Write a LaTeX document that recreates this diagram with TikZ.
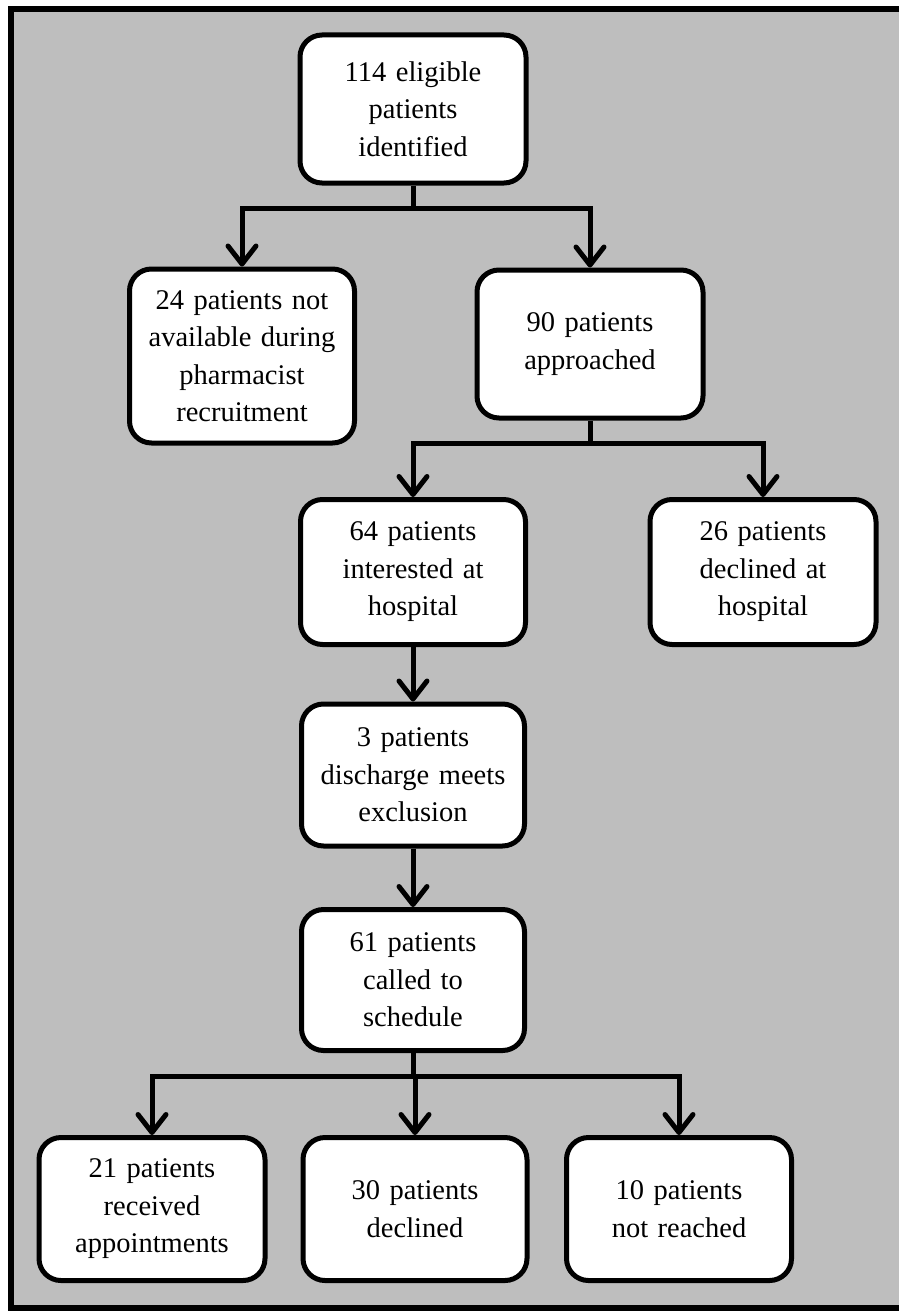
\documentclass[tikz,border=0pt]{standalone}
\usepackage{fontspec}
\setmainfont{Liberation Serif}
\usetikzlibrary{arrows.meta}
\definecolor{panelgray}{RGB}{190,190,190}
\tikzset{
  box/.style={draw=black, fill=white, line width=5pt, rounded corners=22pt,
    align=center, inner sep=0pt, text width=214pt,
    font=\fontsize{28.5}{37.5}\selectfont},
  link/.style={draw=black, line width=5pt},
  arr/.style={link, -{Straight Barb[length=18pt,width=28pt,round]}}
}
\begin{document}
\begin{tikzpicture}[x=1pt,y=-1pt]
\useasboundingbox (0,0) rectangle (899,1311);
% panel
\fill[panelgray] (11,9) rectangle (899,1308);
\draw[line width=6pt] (899,9) -- (11,9) -- (11,1308) -- (899,1308);

% nodes
\node[box, minimum width=226pt, minimum height=148pt] (n1) at (413,109) {114 eligible\\patients\\identified};
\node[box, minimum width=225pt, minimum height=174pt] (n2) at (242,356) {24 patients not\\available during\\pharmacist\\recruitment};
\node[box, minimum width=226pt, minimum height=148pt] (n3) at (590,344) {90 patients\\approached};
\node[box, minimum width=225pt, minimum height=145pt] (n4) at (413,572) {64 patients\\interested at\\hospital};
\node[box, minimum width=226pt, minimum height=145pt] (n5) at (763,572) {26 patients\\declined at\\hospital};
\node[box, minimum width=223pt, minimum height=142pt] (n6) at (413,775) {3 patients\\discharge meets\\exclusion};
\node[box, minimum width=223pt, minimum height=141pt] (n7) at (413,980) {61 patients\\called to\\schedule};
\node[box, minimum width=226pt, minimum height=143pt] (n8) at (152,1209) {21 patients\\received\\appointments};
\node[box, minimum width=224pt, minimum height=143pt] (n9) at (415,1209) {30 patients\\declined};
\node[box, minimum width=225pt, minimum height=143pt] (n10) at (679,1209) {10 patients\\not reached};

% junctions
\coordinate (j1) at (413,208);
\coordinate (j2) at (590,443);
\coordinate (j3) at (413,1076);

% connectors
\draw[link] (n1.south) -- (j1);
\draw[arr] (j1) -| (n2.north);
\draw[arr] (j1) -| (n3.north);

\draw[link] (n3.south) -- (j2);
\draw[arr] (j2) -| (n4.north);
\draw[arr] (j2) -| (n5.north);

\draw[arr] (n4.south) -- (n6.north);
\draw[arr] (n6.south) -- (n7.north);

\draw[link] (n7.south) -- (j3);
\draw[arr] (j3) -| (n8.north);
\draw[arr] (j3) -| (n9.north);
\draw[arr] (j3) -| (n10.north);
\end{tikzpicture}
\end{document}
